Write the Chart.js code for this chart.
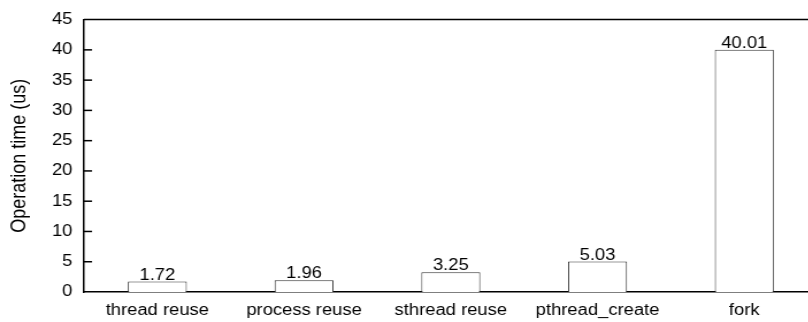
<!DOCTYPE html>
<html>
<head>
<meta charset="utf-8">
<script src="https://cdn.jsdelivr.net/npm/chart.js@4/dist/chart.umd.min.js"></script>
<style>
  html, body { margin: 0; padding: 0; background: #fff; overflow: hidden; }
  body { width: 808px; height: 322px; }
  .wrap { width: 713px; height: 322px; transform: scaleX(1.15); transform-origin: 0 0; }
</style>
</head>
<body>
<div class="wrap"><canvas id="myChart" width="713" height="322"></canvas></div>
<script>
'use strict'

const categories = ['thread reuse', 'process reuse', 'sthread reuse', 'pthread_create', 'fork'];
const opTimes = [1.72, 1.96, 3.25, 5.03, 40.01];
const yTicks = [0, 5, 10, 15, 20, 25, 30, 35, 40, 45];

const fontFamily = '"Liberation Sans", Arial, Helvetica, sans-serif';
const ctx = document.getElementById('myChart');

// inward tick marks, the top frame line and the value labels
const extras = {
    id: 'extras',
    afterDraw(chart){
        const c = chart.ctx;
        const area = chart.chartArea;
        const y = chart.scales.y;
        c.save();
        c.strokeStyle = '#000';
        c.lineWidth = 1.5;
        c.beginPath();
        c.moveTo(area.left, area.top);
        c.lineTo(area.right, area.top);
        c.stroke();
        yTicks.slice(1, -1).forEach(v => {
            const py = y.getPixelForValue(v);
            c.beginPath();
            c.moveTo(area.left, py);
            c.lineTo(area.left + 7, py);
            c.stroke();
        });
        c.fillStyle = '#000';
        c.font = `16px ${fontFamily}`;
        c.textAlign = 'center';
        c.textBaseline = 'alphabetic';
        chart.getDatasetMeta(0).data.forEach((bar, i) => {
            c.fillText(opTimes[i].toFixed(2), bar.x, bar.y - 2);
        });
        c.restore();
    }
};

new Chart(ctx, {
    type: 'bar',
    data: {
        labels: categories,
        datasets: [{
            data: opTimes,
            backgroundColor: '#fff',
            borderColor: '#333',
            borderWidth: 1,
            barPercentage: 0.402,
            categoryPercentage: 1
        }]
    },
    options: {
        responsive: false,
        animation: false,
        devicePixelRatio: 1,
        layout: { padding: { left: 0, right: 2, top: 15, bottom: 0 } },
        plugins: { legend: { display: false }, tooltip: { enabled: false } },
        scales: {
            x: {
                grid: { display: false, drawTicks: false },
                border: { display: true, color: '#000', width: 1.5 },
                ticks: { color: '#000', padding: 9, font: { size: 16, family: fontFamily } },
                afterFit(scale){ scale.height = 30; }
            },
            y: {
                min: 0,
                max: 45,
                grid: { display: false, drawTicks: false },
                border: { display: true, color: '#000', width: 1.5 },
                ticks: {
                    stepSize: 5,
                    color: '#000',
                    padding: 10,
                    font: { size: 16, family: fontFamily }
                },
                title: {
                    display: true,
                    text: 'Operation time (us)',
                    color: '#000',
                    padding: { top: 6, bottom: 0 },
                    font: { size: 18, family: fontFamily }
                },
                afterFit(scale){ scale.width = 73; }
            }
        }
    },
    plugins: [extras]
});
</script>
</body>
</html>
